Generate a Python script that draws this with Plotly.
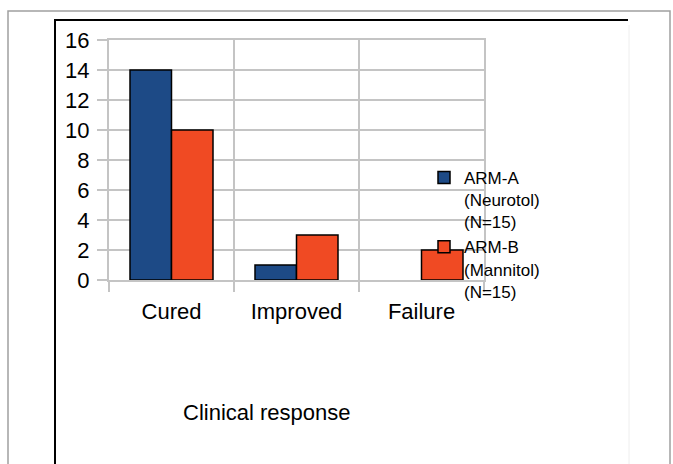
import plotly.graph_objects as go

categories = ["Cured", "Improved", "Failure"]
arm_a = [14, 1, 0]
arm_b = [10, 3, 2]
series_names = ["ARM-A<br>(Neurotol)<br>(N=15)", "ARM-B<br>(Mannitol)<br>(N=15)"]
y_ticks = [0, 2, 4, 6, 8, 10, 12, 14, 16]
x_title = "Clinical response"

W, H = 673, 464
def px(x):
    return x / W
def py(y):
    return 1 - y / H

FONT = "Liberation Sans, Arial, sans-serif"
GRID = "#c4c4c4"

def outline_widths(values):
    # zero-height bars get no outline so no stray line is drawn on the axis
    return [1.5 if v else 0 for v in values]

fig = go.Figure()
fig.add_trace(go.Bar(x=categories, y=arm_a, name=series_names[0],
                     marker=dict(color="#1d4a86",
                                 line=dict(color="#000000", width=outline_widths(arm_a)))))
fig.add_trace(go.Bar(x=categories, y=arm_b, name=series_names[1],
                     marker=dict(color="#f04a23",
                                 line=dict(color="#000000", width=outline_widths(arm_b)))))

fig.update_layout(
    width=W, height=H,
    margin=dict(l=0, r=0, t=0, b=0, autoexpand=False),
    paper_bgcolor="white", plot_bgcolor="white",
    font=dict(family=FONT, size=22, color="#000000"),
    barmode="group", bargap=0.336, bargroupgap=0,
    showlegend=True,
    legend=dict(x=px(424), y=py(160), xanchor="left", yanchor="top",
                bgcolor="rgba(0,0,0,0)", valign="top",
                font=dict(family=FONT, size=17, color="#000000"),
                traceorder="normal"),
    xaxis=dict(domain=[px(109), px(484)], type="category", automargin=False,
               showgrid=True, gridcolor=GRID, gridwidth=2,
               showline=True, mirror=True, linecolor=GRID, linewidth=2,
               tickson="boundaries", ticks="outside", ticklen=10,
               tickcolor=GRID, tickwidth=2, zeroline=False,
               ticklabelstandoff=11, tickfont=dict(size=22)),
    yaxis=dict(domain=[py(280), py(40)], range=[0, 16], tickvals=y_ticks,
               automargin=False,
               showgrid=True, gridcolor=GRID, gridwidth=2,
               showline=True, mirror=True, linecolor=GRID, linewidth=2,
               ticks="outside", ticklen=10, tickcolor=GRID, tickwidth=2,
               ticklabelstandoff=3, zeroline=False, tickfont=dict(size=22)),
    annotations=[dict(text=x_title, xref="paper", yref="paper",
                      x=px(267), y=py(412), xanchor="center", yanchor="middle",
                      showarrow=False, font=dict(size=22, family=FONT))],
    shapes=[
        dict(type="rect", xref="paper", yref="paper", x0=px(8), x1=px(670),
             y0=py(470), y1=py(11), line=dict(color="#a0a0a0", width=1.5), layer="below"),
        dict(type="line", xref="paper", yref="paper", x0=px(55), x1=px(55),
             y0=py(19), y1=py(470), line=dict(color="#000000", width=2)),
        dict(type="line", xref="paper", yref="paper", x0=px(55), x1=px(628),
             y0=py(20), y1=py(20), line=dict(color="#000000", width=2)),
        dict(type="line", xref="paper", yref="paper", x0=px(629), x1=px(629),
             y0=py(25), y1=py(470), line=dict(color="#eeeeee", width=1)),
    ],
)

fig.write_html("out.html", config=dict(displayModeBar=False),
               post_script="document.body.style.margin='0';document.body.style.overflow='hidden';")
